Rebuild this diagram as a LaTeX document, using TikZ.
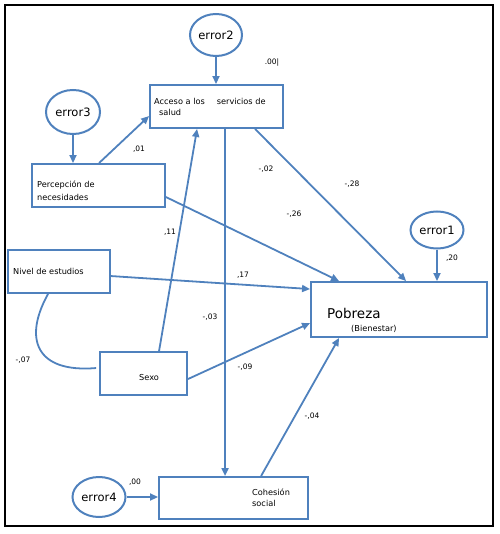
\documentclass[tikz,border=0pt]{standalone}
\usepackage{fontspec}
\setmainfont{DejaVu Sans}
\usetikzlibrary{calc,arrows.meta,shapes.geometric}
\definecolor{sem}{HTML}{4F81BD}
\tikzset{
  box/.style={draw=sem,line width=1.9pt,rectangle,inner sep=0pt},
  err/.style={draw=sem,line width=2pt,ellipse,inner sep=0pt,font=\fontsize{11.5}{13}\selectfont},
  conn/.style={draw=sem,line width=1.8pt,-{Triangle[length=8pt,width=7pt]}},
  curv/.style={draw=sem,line width=1.8pt},
  txt/.style={inner sep=0pt,anchor=west,font=\fontsize{8.2}{9.5}\selectfont},
  coef/.style={inner sep=0pt,font=\fontsize{7.5}{8}\selectfont}
}
\begin{document}
\begin{tikzpicture}[x=1pt,y=-1pt]
\useasboundingbox (0,0) rectangle (499,534);
\draw[line width=1.4pt] (5,5) rectangle (493,526);
% boxes
\node[box,minimum width=133pt,minimum height=43pt] (acc) at (216.5,106.5) {};
\node[box,minimum width=133pt,minimum height=43pt] (perc) at (98.5,185.5) {};
\node[box,minimum width=102pt,minimum height=43pt] (niv) at (59,271.5) {};
\node[box,minimum width=176pt,minimum height=55pt] (pob) at (399,309.5) {};
\node[box,minimum width=87pt,minimum height=43pt] (sexo) at (143.5,373.5) {};
\node[box,minimum width=149pt,minimum height=42pt] (coh) at (233.5,498) {};
% ellipses
\node[err,minimum width=52pt,minimum height=42pt] (e2) at (216,35) {error2};
\node[err,minimum width=54pt,minimum height=44pt] (e3) at (73,112) {error3};
\node[err,minimum width=53pt,minimum height=37pt] (e1) at (437,230) {error1};
\node[err,minimum width=53pt,minimum height=40pt] (e4) at (99,497) {error4};
% box texts
\node[txt] (tacc1) at (154,101) {Acceso a los\hspace{12pt}servicios de};
\node[txt] (tacc2) at (159,112) {salud};
\node[txt] (tperc1) at (37,185) {Percepción de};
\node[txt] (tperc2) at (37,197) {necesidades};
\node[txt] (tniv) at (13,271) {Nivel de estudios};
\node[txt,font=\fontsize{13.5}{15}\selectfont] (tpob1) at (327,313) {Pobreza};
\node[txt] (tpob2) at (351,329) {(Bienestar)};
\node[txt] (tsexo) at (139,378) {Sexo};
\node[txt] (tcoh1) at (252,492) {Cohesión};
\node[txt] (tcoh2) at (252,503) {social};
% connectors
\draw[conn] (e2.south) -- (e2.south |- acc.north);
\draw[conn] (e3.south) -- (e3.south |- perc.north);
\draw[conn] (e1.south) -- (e1.south |- pob.north);
\draw[conn] (e4.east) -- (e4.east -| coh.west);
\draw[conn] ($(perc.north west)+(68,0)$) -- ($(acc.north west)+(0,32)$);
\draw[conn] ($(acc.south west)+(76,0)$) -- ($(coh.north west)+(67,0)$);
\draw[conn] ($(sexo.north west)+(60,0)$) -- ($(acc.south west)+(48,0)$);
\draw[conn] ($(acc.south west)+(106,0)$) -- ($(pob.north west)+(96,0)$);
\draw[conn] ($(perc.north east)+(0,34)$) -- ($(pob.north west)+(29,0)$);
\draw[conn] ($(niv.north east)+(0,27)$) -- ($(pob.north west)+(0,8)$);
\draw[conn] ($(sexo.north east)+(0,28)$) -- ($(pob.north west)+(0,42)$);
\draw[conn] ($(coh.north west)+(103,0)$) -- ($(pob.south west)+(29,0)$);
\draw[curv] ($(niv.south west)+(41,0)$) .. controls +(-25,45) and +(-60,5) .. ($(sexo.north west)+(-3,17)$);
% coefficients
\node[coef] (c00a) at (272,63) {.00|};
\node[coef] (c01) at (139,149) {,01};
\node[coef] (c02) at (266,169) {-,02};
\node[coef] (c28) at (352,184) {-,28};
\node[coef] (c26) at (294,214) {-,26};
\node[coef] (c11) at (170,232) {,11};
\node[coef] (c17) at (243,275) {,17};
\node[coef] (c20) at (452,258) {,20};
\node[coef] (c03) at (210,317) {-,03};
\node[coef] (c07) at (23,360) {-,07};
\node[coef] (c09) at (245,367) {-,09};
\node[coef] (c04) at (312,416) {-,04};
\node[coef] (c00b) at (135,482) {,00};
\end{tikzpicture}
\end{document}
